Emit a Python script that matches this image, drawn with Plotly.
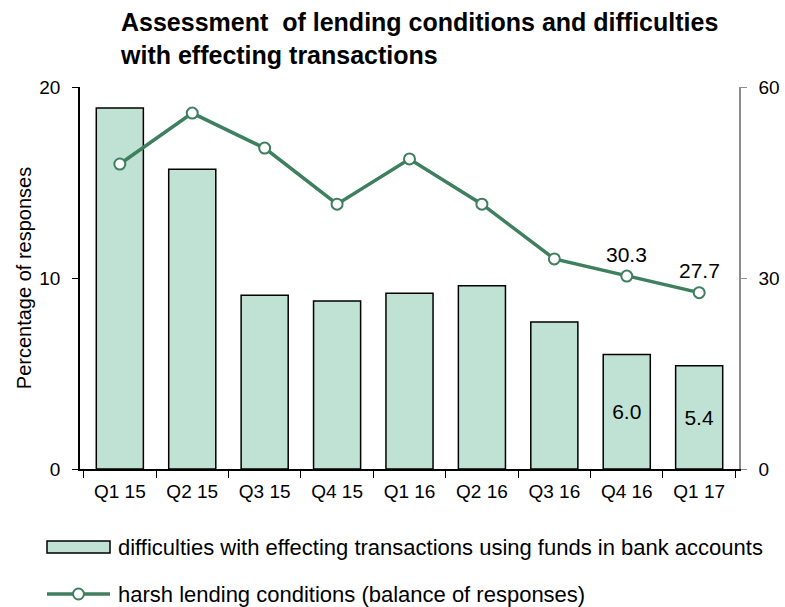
import plotly.graph_objects as go

quarters = ["Q1 15", "Q2 15", "Q3 15", "Q4 15", "Q1 16", "Q2 16", "Q3 16", "Q4 16", "Q1 17"]
difficulties = [18.9, 15.7, 9.1, 8.8, 9.2, 9.6, 7.7, 6.0, 5.4]
harsh_lending = [47.9, 55.9, 50.4, 41.6, 48.7, 41.6, 33.0, 30.3, 27.7]
labelled = ["Q4 16", "Q1 17"]

bar_name = "difficulties with effecting transactions using funds in bank accounts"
line_name = "harsh lending conditions (balance of responses)"
title_text = "Assessment  of lending conditions and difficulties<br>with effecting transactions"

FONT = "Liberation Sans, Arial, sans-serif"
LINE_GREEN = "#3E7F5E"
BAR_FILL = "#C0E2D5"

W, H = 785, 607
M_L, M_R, M_T, M_B = 80, 46, 87, 138
PW, PH = W - M_L - M_R, H - M_T - M_B


def px_x(px):
    return (px - M_L) / PW


def px_y(py):
    return (H - M_B - py) / PH


bar_text = [f"{v:.1f}" if q in labelled else "" for q, v in zip(quarters, difficulties)]
line_text = [f"{v:.1f}" if q in labelled else "" for q, v in zip(quarters, harsh_lending)]

fig = go.Figure()

fig.add_trace(go.Bar(
    x=quarters, y=difficulties, name=bar_name,
    marker=dict(color=BAR_FILL, line=dict(color="#000000", width=1.5)),
    width=0.65, text=bar_text, textposition="inside", insidetextanchor="middle",
    textfont=dict(size=21, color="#000"), showlegend=False, cliponaxis=False,
))

fig.add_trace(go.Scatter(
    x=quarters, y=harsh_lending, name=line_name, yaxis="y2",
    mode="lines+markers",
    line=dict(color=LINE_GREEN, width=3.5),
    marker=dict(size=11, color="white", line=dict(color=LINE_GREEN, width=2)),
    showlegend=False,
))

for q, v, t in zip(quarters, harsh_lending, line_text):
    if t:
        fig.add_annotation(x=q, y=v, yref="y2", text=t, showarrow=False, yshift=22,
                           font=dict(size=21, color="#000"))

# title
fig.add_annotation(text=f"<b>{title_text}</b>", xref="paper", yref="paper",
                   x=px_x(118), y=px_y(6), xanchor="left", yanchor="top", align="left",
                   showarrow=False, font=dict(size=25, color="#000", family=FONT))

# legend drawn below the plot
shapes = [
    dict(type="rect", xref="paper", yref="paper",
         x0=px_x(47), x1=px_x(110), y0=px_y(553), y1=px_y(541),
         fillcolor=BAR_FILL, line=dict(color="#000", width=1.5)),
    dict(type="line", xref="paper", yref="paper",
         x0=px_x(47), x1=px_x(110), y0=px_y(594), y1=px_y(594),
         line=dict(color=LINE_GREEN, width=3.5)),
    dict(type="circle", xref="paper", yref="paper",
         x0=px_x(73), x1=px_x(84), y0=px_y(599.5), y1=px_y(588.5),
         fillcolor="white", line=dict(color=LINE_GREEN, width=2)),
]
for name, py in ((bar_name, 547), (line_name, 594)):
    fig.add_annotation(text=name, xref="paper", yref="paper", x=px_x(116), y=px_y(py),
                       xanchor="left", yanchor="middle", showarrow=False,
                       font=dict(size=22, color="#000"))

fig.update_layout(
    width=W, height=H,
    margin=dict(l=M_L, r=M_R, t=M_T, b=M_B, autoexpand=False),
    paper_bgcolor="white", plot_bgcolor="white",
    font=dict(family=FONT, size=19, color="#000"),
    shapes=shapes,
    showlegend=False,
    xaxis=dict(
        type="category", showline=True, linecolor="#000", linewidth=1.5,
        ticks="outside", tickson="boundaries", ticklen=7, tickcolor="#000",
        showgrid=False, tickfont=dict(size=19), ticklabelstandoff=4,
    ),
    yaxis=dict(
        range=[0, 20], tickvals=[0, 10, 20], showline=True, linecolor="#000", linewidth=1.5,
        ticks="outside", ticklen=6, tickcolor="#000", showgrid=False, zeroline=False,
        title=dict(text="Percentage of responses", font=dict(size=20), standoff=2),
        tickfont=dict(size=19), ticklabelstandoff=8,
    ),
    yaxis2=dict(
        range=[0, 60], tickvals=[0, 30, 60], overlaying="y", side="right",
        showline=True, linecolor="#8C8C8C", linewidth=1.5,
        ticks="outside", ticklen=6, tickcolor="#8C8C8C", showgrid=False, zeroline=False,
        tickfont=dict(size=19), ticklabelstandoff=8,
    ),
)

fig.write_html("out.html")
